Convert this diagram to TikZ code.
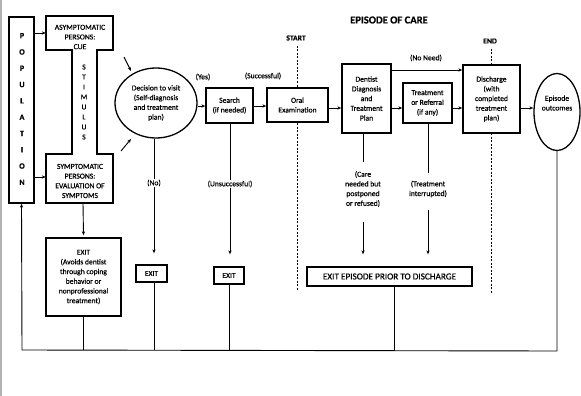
\documentclass[tikz,border=0pt]{standalone}
\usepackage{fontspec}
\setmainfont{Carlito}[FakeBold=0.6]
\usetikzlibrary{arrows.meta,calc,shapes.geometric}
\begin{document}
\begin{tikzpicture}[x=1pt,y=-1pt,
  box/.style={draw,line width=1.3pt,fill=white,inner sep=0pt,align=center,font=\fontsize{7.6}{9.7}\selectfont},
  lbl/.style={inner sep=0pt,align=center,font=\fontsize{7.6}{9.7}\selectfont},
  conn/.style={line width=0.9pt},
  arr/.style={conn,-{Stealth[length=4pt,width=3.2pt]}},
  startend/.style={line width=0.8pt,dash pattern=on 2pt off 1.5pt}
]
\useasboundingbox (0,0) rectangle (581,396);
\draw[gray!60,line width=1.5pt] (1,0) -- (1,396);

% title and markers
\node[lbl,font=\fontsize{10.6}{12}\selectfont\bfseries] (title) at (389,20) {EPISODE OF CARE};
\node[lbl,font=\fontsize{7.6}{9}\selectfont\bfseries] (start) at (296,38) {START};
\node[lbl,font=\fontsize{7.6}{9}\selectfont\bfseries] (end) at (490,41) {END};
\coordinate (startb) at (297,290);
\coordinate (endb) at (491,293);
\draw[startend] (297,46) -- (startb);
\draw[startend] (491,49) -- (endb);

% population
\node[box,minimum width=25pt,minimum height=186pt] (pop) at (21.5,110) {};
\node[lbl,font=\fontsize{8}{16.3}\selectfont\bfseries] (poptxt) at (22,109) {P\\O\\P\\U\\L\\A\\T\\I\\O\\N};

% I-shape
\draw[line width=1.3pt,fill=white] (46,16) -- (113,16) -- (113,50) -- (97,50) -- (97,154) -- (113,154) -- (113,203) -- (46,203) -- (46,154) -- (72,154) -- (72,50) -- (46,50) -- cycle;
\node[lbl,minimum width=67pt,minimum height=34pt] (asym) at (79.5,33) {};
\node[lbl] (asymtxt) at (80,37) {ASYMPTOMATIC\\PERSONS:\\CUE};
\node[lbl,font=\fontsize{7.6}{10}\selectfont] (stim) at (84,102) {S\\T\\I\\M\\U\\L\\U\\S};
\node[lbl,minimum width=67pt,minimum height=49pt] (sym) at (79.5,178.5) {};
\node[lbl] (symtxt) at (80,181) {SYMPTOMATIC\\PERSONS:\\EVALUATION OF\\SYMPTOMS};

\draw[arr] (pop.east |- 0,33) -- (asym.west |- 0,33);
\draw[arr] (pop.east |- 0,177) -- (sym.west |- 0,177);

% decision
\node[box,ellipse,minimum width=82pt,minimum height=70pt] (dec) at (156,103) {Decision to visit\\(Self-diagnosis\\and treatment\\plan)};
\coordinate (a1s) at (124,57);
\coordinate (a2s) at (121,151);
\draw[arr] (a1s) -- (131,71);
\draw[arr] (a2s) -- (131,139);

% main row
\node[box,minimum width=47pt,minimum height=35pt] (search) at (229.5,105.5) {Search\\(if needed)};
\node[box,minimum width=61pt,minimum height=34pt] (oral) at (297.5,105) {Oral\\Examination};
\node[box,minimum width=49pt,minimum height=69pt] (dent) at (366.5,98.5) {Dentist\\Diagnosis\\and\\Treatment\\Plan};
\node[box,minimum width=49pt,minimum height=40pt] (treat) at (427.5,103) {Treatment\\or Referral\\(if any)};
\node[box,minimum width=57pt,minimum height=68pt] (disc) at (491.5,99) {Discharge\\(with\\completed\\treatment\\plan)};
\node[box,ellipse,minimum width=46pt,minimum height=77pt] (outc) at (557,112) {};
\node[lbl] (outctxt) at (557,103) {Episode\\outcomes};

\draw[arr] (dec.east |- 0,106) -- (search.west |- 0,106);
\draw[arr] (search.east |- 0,106) -- (oral.west |- 0,106);
\draw[arr] (oral.east |- 0,108) -- (dent.west |- 0,108);
\draw[arr] (dent.east |- 0,108) -- (treat.west |- 0,108);
\draw[arr] (treat.east |- 0,108) -- (disc.west |- 0,108);
\draw[arr] (disc.east |- 0,108) -- (outc.west |- 0,108);
\draw[arr] (dent.east |- 0,70) -- (disc.west |- 0,70);

% labels
\node[lbl] (yes) at (203,77) {(Yes)};
\node[lbl] (succ) at (263,76) {(Successful)};
\node[lbl] (noneed) at (426,58) {(No Need)};
\node[lbl] (no) at (154,183) {(No)};
\node[lbl] (unsucc) at (230,184) {(Unsuccessful)};
\node[lbl] (care) at (363,189) {(Care\\needed but\\postponed\\or refused)};
\node[lbl] (interr) at (428,189) {(Treatment\\interrupted)};

% exits
\node[box,minimum width=75pt,minimum height=78pt] (exa) at (83.5,277) {EXIT\\(Avoids dentist\\through coping\\behavior or\\nonprofessional\\treatment)};
\node[box,minimum width=31pt,minimum height=17pt] (exb) at (151.5,273.5) {EXIT};
\node[box,minimum width=30pt,minimum height=17pt] (exc) at (229,275.5) {EXIT};
\node[box,minimum width=165pt,minimum height=19pt,font=\fontsize{9.2}{11}\selectfont] (exd) at (389.5,276.5) {EXIT EPISODE PRIOR TO DISCHARGE};

% downward branches
\draw[conn] (sym.south -| 83,0) -- (83,203);
\draw[arr] (83,203) -- ($(exa.north)+(0,-2)$);
\draw[conn] (dec.south -| 154,0) -- (no.north -| 154,0);
\draw[arr] (no.south -| 154,0) -- ($(exb.north -| 154,0)+(0,-11)$);
\draw[conn] (search.south -| 230,0) -- (unsucc.north -| 230,0);
\draw[arr] (unsucc.south -| 230,0) -- ($(exc.north -| 230,0)+(0,-12)$);
\draw[conn] (dent.south -| 363,0) -- (363,162);
\draw[arr] (363,222) -- ($(exd.north -| 363,0)+(0,-12)$);
\draw[conn] (treat.south -| 428,0) -- (428,173);
\draw[arr] (428,210) -- ($(exd.north -| 428,0)+(0,-12)$);

% return path
\coordinate (br) at (557,351);
\coordinate (bl) at (22,350);
\draw[conn] (outc.south) -- (br) -- (bl);
\draw[arr] (bl) -- (pop.south);
\draw[conn] (exa.south) -- (exa.south |- bl);
\draw[conn] (exb.south -| 154,0) -- (154,350);
\draw[conn] (exc.south -| 229,0) -- (229,350);
\draw[conn] (exd.south -| 394,0) -- (394,351);
\end{tikzpicture}
\end{document}
